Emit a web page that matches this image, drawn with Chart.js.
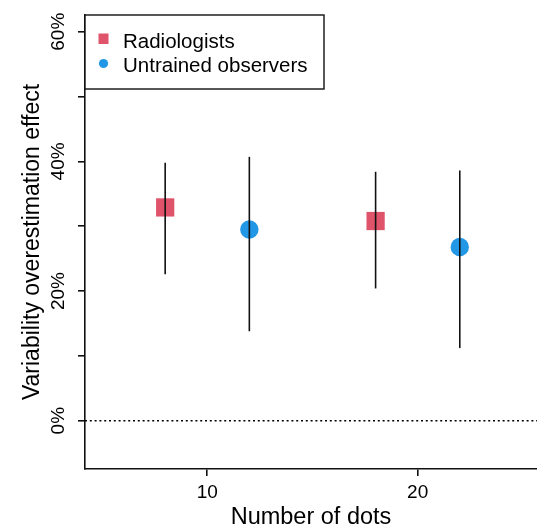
<!DOCTYPE html>
<html>
<head>
<meta charset="utf-8">
<script src="https://cdn.jsdelivr.net/npm/chart.js@4"></script>
<style>
  html, body { margin: 0; padding: 0; background: #fff; }
  #wrap { width: 537px; height: 529px; }
</style>
</head>
<body>
<div id="wrap"><canvas id="c" width="537" height="529"></canvas></div>
<script>
// ---- data ----
const seriesNames = ['Radiologists', 'Untrained observers'];
const radDots = [8, 18];
const radEffect = [32.9, 30.8];
const radLow = [22.6, 20.4];
const radHigh = [39.8, 38.4];
const untDots = [12, 22];
const untEffect = [29.5, 26.8];
const untLow = [13.8, 11.2];
const untHigh = [40.7, 38.6];
const xTicks = [10, 20];
const yTicks = [0, 10, 20, 30, 40, 50, 60];
const yLabelled = [0, 20, 40, 60];

const X_MIN = 4.19, X_MAX = 25.67, Y_MIN = -7.45, Y_MAX = 62.58;
const RED = '#DF536B', BLUE = '#2297E6';
const FONT = "'Liberation Sans', Arial, sans-serif";

function errorSets(xs, lows, highs) {
  return xs.map((x, i) => ({
    type: 'line',
    data: [{x: x, y: lows[i]}, {x: x, y: highs[i]}],
    borderColor: '#111',
    borderWidth: 1.6,
    pointRadius: 0,
    showLine: true,
    order: 0
  }));
}

const datasets = [
  {
    label: seriesNames[0],
    data: radDots.map((x, i) => ({x: x, y: radEffect[i]})),
    pointStyle: 'rect',
    pointRadius: 12.9,
    backgroundColor: RED,
    borderColor: RED,
    borderWidth: 0,
    order: 1
  },
  {
    label: seriesNames[1],
    data: untDots.map((x, i) => ({x: x, y: untEffect[i]})),
    pointStyle: 'circle',
    pointRadius: 9.2,
    backgroundColor: BLUE,
    borderColor: BLUE,
    borderWidth: 0,
    order: 1
  },
  ...errorSets(radDots, radLow, radHigh),
  ...errorSets(untDots, untLow, untHigh),
  {
    type: 'line',
    data: [{x: X_MIN, y: 0}, {x: X_MAX, y: 0}],
    borderColor: '#000',
    borderWidth: 1.4,
    borderDash: [2, 2.8],
    pointRadius: 0,
    showLine: true,
    order: 2
  }
];

const legendPlugin = {
  id: 'boxLegend',
  afterDraw(chart) {
    const ctx = chart.ctx;
    const a = chart.chartArea;
    ctx.save();
    const x0 = a.left, y0 = a.top, w = 239, h = 74;
    ctx.fillStyle = '#fff';
    ctx.fillRect(x0, y0, w, h);
    ctx.strokeStyle = '#111';
    ctx.lineWidth = 1.4;
    ctx.strokeRect(x0, y0, w, h);
    ctx.fillStyle = RED;
    ctx.fillRect(x0 + 13.5, y0 + 18.5, 10, 10.5);
    ctx.fillStyle = BLUE;
    ctx.beginPath();
    ctx.arc(x0 + 18.5, y0 + 48.5, 4.6, 0, Math.PI * 2);
    ctx.fill();
    ctx.fillStyle = '#000';
    ctx.font = '20.5px ' + FONT;
    ctx.textBaseline = 'middle';
    ctx.textAlign = 'left';
    ctx.fillText(seriesNames[0], x0 + 38, y0 + 27);
    ctx.fillText(seriesNames[1], x0 + 38, y0 + 51);
    ctx.restore();
  }
};

function noPad(s) { s.paddingLeft = 0; s.paddingRight = 0; s.paddingTop = 0; s.paddingBottom = 0; }

new Chart(document.getElementById('c'), {
  type: 'scatter',
  data: { datasets: datasets },
  options: {
    responsive: false,
    animation: false,
    events: [],
    layout: { autoPadding: false, padding: { top: 15, right: 0, bottom: 0, left: 0 } },
    plugins: { legend: { display: false }, tooltip: { enabled: false } },
    scales: {
      x: {
        type: 'linear',
        min: X_MIN, max: X_MAX,
        afterBuildTicks: s => { s.ticks = xTicks.map(v => ({value: v})); },
        afterFit: s => { s.height = 60; noPad(s); },
        border: { display: true, color: '#111', width: 1.6 },
        grid: { display: true, drawOnChartArea: false, drawTicks: true, tickLength: 7, color: '#111', lineWidth: 1.6 },
        ticks: { color: '#000', padding: 5, font: { family: FONT, size: 19 }, maxRotation: 0, autoSkip: false },
        title: { display: true, text: 'Number of dots', color: '#000', font: { family: FONT, size: 23.5, lineHeight: 1 }, padding: { top: 0, bottom: 0 } }
      },
      y: {
        type: 'linear',
        min: Y_MIN, max: Y_MAX,
        afterBuildTicks: s => { s.ticks = yTicks.map(v => ({value: v})); },
        afterFit: s => { s.width = 85; noPad(s); },
        border: { display: true, color: '#111', width: 1.6 },
        grid: { display: true, drawOnChartArea: false, drawTicks: true, tickLength: 7, color: '#111', lineWidth: 1.6 },
        ticks: {
          color: '#000', padding: 0, autoSkip: false,
          minRotation: 90, maxRotation: 90, crossAlign: 'center',
          font: { family: FONT, size: 19 },
          callback: v => yLabelled.includes(v) ? v + '%' : ''
        },
        title: { display: true, text: 'Variability overestimation effect', color: '#000', font: { family: FONT, size: 23, lineHeight: 1 }, padding: { top: 21, bottom: 0 } }
      }
    }
  },
  plugins: [legendPlugin]
});
</script>
</body>
</html>
